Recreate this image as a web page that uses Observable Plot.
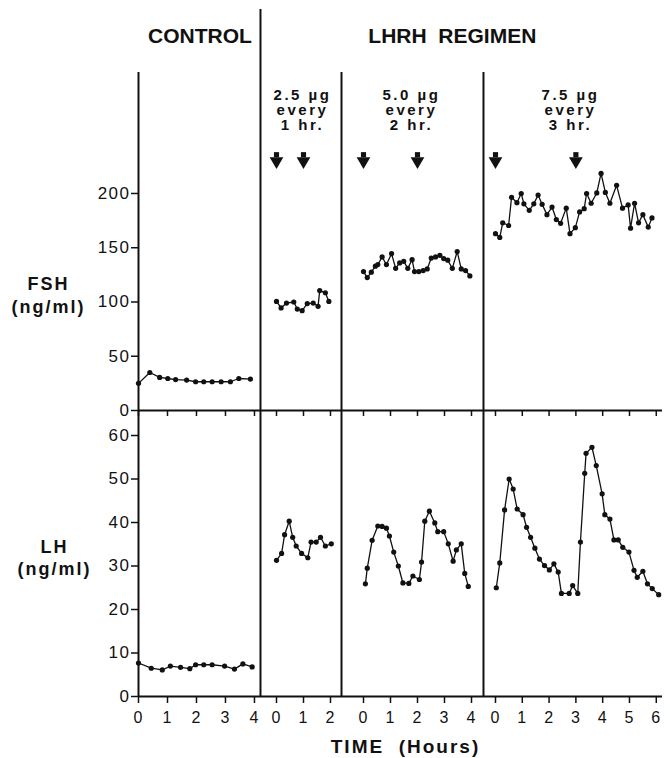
<!DOCTYPE html>
<html><head><meta charset="utf-8">
<script src="https://cdn.jsdelivr.net/npm/d3@7"></script>
<script src="https://cdn.jsdelivr.net/npm/@observablehq/plot@0.6"></script>
<style>
body{margin:0;background:#fff;}
#wrap{position:relative;width:670px;height:758px;background:#fff;}
#wrap svg{position:absolute;left:0;overflow:visible;}
#wrap g[font-size="15"] text{letter-spacing:2.5px;}
#wrap g[font-size="18"] text{letter-spacing:2px;}
#wrap g[font-size="19"] text{letter-spacing:2px;}
#wrap g[font-size="17"] text{letter-spacing:1.5px;}
#wrap g[font-size="16"] text{letter-spacing:1px;}
</style></head><body><div id="wrap"></div>
<script>
// ---- panels (hours shown per panel) ----
const panelNames = ["CONTROL", "2.5 µg\nevery\n1 hr.", "5.0 µg\nevery\n2 hr.", "7.5 µg\nevery\n3 hr."];
const panelHours = [4, 2, 4, 6];
const panelOrigin = [0, 5.188, 8.459, 13.421];   // global position of hour 0
const panelStretch = [1.09, 1.015, 1.015, 1.0075];
const separators = [4.586, 7.632, 12.97];
const injectionHours = [[], [0, 1], [0, 2], [0, 3]];

const headerText = ["CONTROL", "LHRH  REGIMEN"];
const headerX = [2.312, 11.8];
const doseX = [6.165, 10.26, 16.24];

const fshTicks = [0, 50, 100, 150, 200];
const lhTicks = [0, 10, 20, 30, 40, 50, 60];

// ---- FSH (ng/ml) ----
const ctrlFshT = [0, 0.39, 0.73, 1.01, 1.28, 1.66, 1.97, 2.25, 2.54, 2.85, 3.17, 3.46, 3.86];
const ctrlFsh  = [25, 35, 30.5, 29.5, 28.5, 28, 26.5, 26.5, 26.5, 26.5, 26.5, 29.5, 29];
const p25FshT = [0, 0.17, 0.37, 0.64, 0.77, 0.95, 1.14, 1.36, 1.54, 1.6, 1.81, 1.94];
const p25Fsh  = [100.5, 94.5, 99, 100, 93.5, 92, 98.5, 99, 96, 110.5, 108.5, 100.5];
const p50FshT = [0, 0.14, 0.29, 0.44, 0.53, 0.69, 0.85, 1.04, 1.19, 1.34, 1.49, 1.64, 1.8, 1.89, 2.05, 2.21, 2.36, 2.51, 2.67, 2.83, 2.97, 3.12, 3.29, 3.47, 3.62, 3.78, 3.94];
const p50Fsh  = [128, 122.5, 127.5, 133, 134.5, 141.5, 134.5, 144.5, 131, 136, 137.5, 131, 139, 128, 128, 129, 130.5, 140.5, 141.5, 143, 140, 138.5, 131, 146.5, 130.5, 129, 124];
const p75FshT = [0, 0.16, 0.27, 0.49, 0.6, 0.8, 0.96, 1.06, 1.26, 1.43, 1.59, 1.74, 1.92, 2.11, 2.27, 2.43, 2.64, 2.78, 2.98, 3.14, 3.31, 3.4, 3.57, 3.78, 3.94, 4.1, 4.27, 4.52, 4.74, 4.95, 5.04, 5.19, 5.34, 5.5, 5.7, 5.84];
const p75Fsh  = [163, 159.5, 173, 170.5, 196.5, 191.5, 200, 190.5, 184.5, 190.5, 198.5, 190, 180.5, 187.5, 176, 172.5, 186.5, 163, 168.5, 183, 186, 200, 191, 200.5, 218.5, 201, 191, 207.5, 186.5, 189.5, 168, 191, 173, 180.5, 169, 177.5];

// ---- LH (ng/ml) ----
const ctrlLhT = [0, 0.44, 0.82, 1.1, 1.45, 1.77, 1.97, 2.25, 2.54, 2.97, 3.31, 3.6, 3.92];
const ctrlLh  = [7.7, 6.5, 6.1, 7.0, 6.7, 6.4, 7.3, 7.3, 7.3, 7.0, 6.3, 7.5, 6.8];
const p25LhT = [0, 0.19, 0.3, 0.47, 0.6, 0.73, 0.93, 1.16, 1.28, 1.47, 1.63, 1.81, 2.03];
const p25Lh  = [31.3, 32.9, 37.2, 40.3, 36.6, 34.6, 32.9, 31.9, 35.5, 35.5, 36.6, 34.6, 35.1];
const p50LhT = [0.07, 0.14, 0.32, 0.53, 0.69, 0.85, 0.96, 1.12, 1.29, 1.46, 1.68, 1.83, 2.07, 2.15, 2.27, 2.44, 2.64, 2.75, 2.97, 3.14, 3.32, 3.44, 3.62, 3.75, 3.88];
const p50Lh  = [25.9, 29.5, 35.9, 39.2, 39.1, 38.7, 36.9, 33.2, 30.0, 26.1, 26.0, 27.7, 26.9, 30.9, 40.3, 42.6, 39.9, 37.9, 37.9, 35.1, 31.1, 33.7, 35.1, 28.3, 25.3];
const p75LhT = [0.03, 0.16, 0.34, 0.51, 0.66, 0.81, 1.03, 1.16, 1.31, 1.47, 1.64, 1.83, 2.01, 2.18, 2.34, 2.46, 2.75, 2.88, 3.07, 3.17, 3.33, 3.38, 3.6, 3.76, 3.98, 4.08, 4.27, 4.42, 4.58, 4.75, 4.98, 5.17, 5.29, 5.5, 5.67, 5.85, 6.09];
const p75Lh  = [25.0, 30.7, 42.9, 50.0, 47.7, 43.1, 41.8, 38.9, 36.6, 34.1, 31.6, 30.1, 29.1, 30.5, 28.6, 23.7, 23.7, 25.5, 23.7, 35.5, 51.3, 55.9, 57.3, 53.1, 46.6, 41.8, 40.8, 36.0, 36.0, 34.3, 33.2, 29.0, 27.4, 28.8, 25.9, 24.8, 23.4];

// ---- build tables ----
const toG = (p, h) => panelOrigin[p] + panelStretch[p] * h;
const series = (p, T, V) => T.map((t, i) => ({x: toG(p, t), v: V[i], panel: p}));
const fshData = [series(0, ctrlFshT, ctrlFsh), series(1, p25FshT, p25Fsh), series(2, p50FshT, p50Fsh), series(3, p75FshT, p75Fsh)].flat();
const lhData = [series(0, ctrlLhT, ctrlLh), series(1, p25LhT, p25Lh), series(2, p50LhT, p50Lh), series(3, p75LhT, p75Lh)].flat();

const tickData = panelHours.flatMap((n, p) => d3.range(0, n + 1).map(h => ({x: toG(p, h), label: String(h)})));
const tickPos = tickData.map(d => d.x);
const tickLabel = new Map(tickData.map(d => [d.x, d.label]));
const arrows = injectionHours.flatMap((hs, p) => hs.map(h => ({x: toG(p, h)})));
const headers = headerText.map((t, i) => ({x: headerX[i], text: t}));
const doses = panelNames.slice(1).map((t, i) => ({x: doseX[i], text: t}));

const W = 670, ML = 138, MR = 8;
const xDomain = [0, 19.7];
const fshTop = 311.5, fshHeaderTop = 369.6, lhTop = 65.75;
const ink = "#111";
const font = "Liberation Sans, Arial, Helvetica, sans-serif";

const fsh = Plot.plot({
  width: W, height: 417, marginLeft: ML, marginRight: MR, marginTop: 72, marginBottom: 7,
  style: {fontFamily: font, background: "transparent", overflow: "visible", color: ink},
  x: {domain: xDomain, label: null},
  y: {domain: [0, fshTop], label: null},
  marks: [
    Plot.ruleX([0, separators[1], separators[2]], {stroke: ink, strokeWidth: 2}),
    Plot.ruleX([separators[0]], {y1: 0, y2: fshHeaderTop, stroke: ink, strokeWidth: 2}),
    Plot.ruleY([0], {stroke: ink, strokeWidth: 2}),
    Plot.axisX(tickPos, {tickSize: 6, tickFormat: () => "", label: null, stroke: ink, strokeWidth: 1.5}),
    Plot.axisY(fshTicks, {tickSize: 7, tickPadding: 1, fontSize: 17, label: null, stroke: ink, strokeWidth: 1.5, fill: ink}),
    Plot.text(["FSH\n(ng/ml)"], {frameAnchor: "left", dx: -90, dy: 52.5, textAnchor: "middle", lineAnchor: "middle", lineHeight: 1.28, fontSize: 18, fontWeight: "bold", fill: ink}),
    Plot.text(headers, {x: "x", text: "text", frameAnchor: "top", dy: -36, lineAnchor: "middle", fontSize: 21, fontWeight: "bold", fill: ink}),
    Plot.text(doses, {x: "x", text: "text", frameAnchor: "top", dy: 37.5, lineAnchor: "middle", lineHeight: 1.03, fontSize: 15, fontWeight: "bold", fill: ink}),
    Plot.dot(arrows, {x: "x", frameAnchor: "top", dy: 82.2, symbol: "square", r: 2.9, fill: ink}),
    Plot.dot(arrows, {x: "x", frameAnchor: "top", dy: 88.6, symbol: "triangle", r: 5.1, rotate: 180, fill: ink}),
    Plot.line(fshData, {x: "x", y: "v", z: "panel", stroke: ink, strokeWidth: 1.3}),
    Plot.dot(fshData, {x: "x", y: "v", r: 2.6, fill: ink})
  ]
});
fsh.style.top = "0px";

const lh = Plot.plot({
  width: W, height: 348, marginLeft: ML, marginRight: MR, marginTop: 0, marginBottom: 62,
  style: {fontFamily: font, background: "transparent", overflow: "visible", color: ink},
  x: {domain: xDomain, label: null},
  y: {domain: [0, lhTop], label: null},
  marks: [
    Plot.ruleX([0, ...separators], {stroke: ink, strokeWidth: 2}),
    Plot.ruleY([0], {stroke: ink, strokeWidth: 2}),
    Plot.axisX(tickPos, {tickSize: 7, tickPadding: 8, tickFormat: d => tickLabel.get(d), fontSize: 16, label: null, stroke: ink, strokeWidth: 1.5, fill: ink}),
    Plot.axisY(lhTicks, {tickSize: 7, tickPadding: 1, fontSize: 17, label: null, stroke: ink, strokeWidth: 1.5, fill: ink}),
    Plot.text(["LH\n(ng/ml)"], {frameAnchor: "left", dx: -84, dy: 3, textAnchor: "middle", lineAnchor: "middle", lineHeight: 1.22, fontSize: 18, fontWeight: "bold", fill: ink}),
    Plot.text(["TIME  (Hours)"], {frameAnchor: "bottom", dx: 5, dy: 50, lineAnchor: "middle", fontSize: 19, fontWeight: "bold", fill: ink}),
    Plot.line(lhData, {x: "x", y: "v", z: "panel", stroke: ink, strokeWidth: 1.3}),
    Plot.dot(lhData, {x: "x", y: "v", r: 2.6, fill: ink})
  ]
});
lh.style.top = "410px";

const wrap = document.getElementById("wrap");
wrap.appendChild(fsh);
wrap.appendChild(lh);
</script></body></html>
